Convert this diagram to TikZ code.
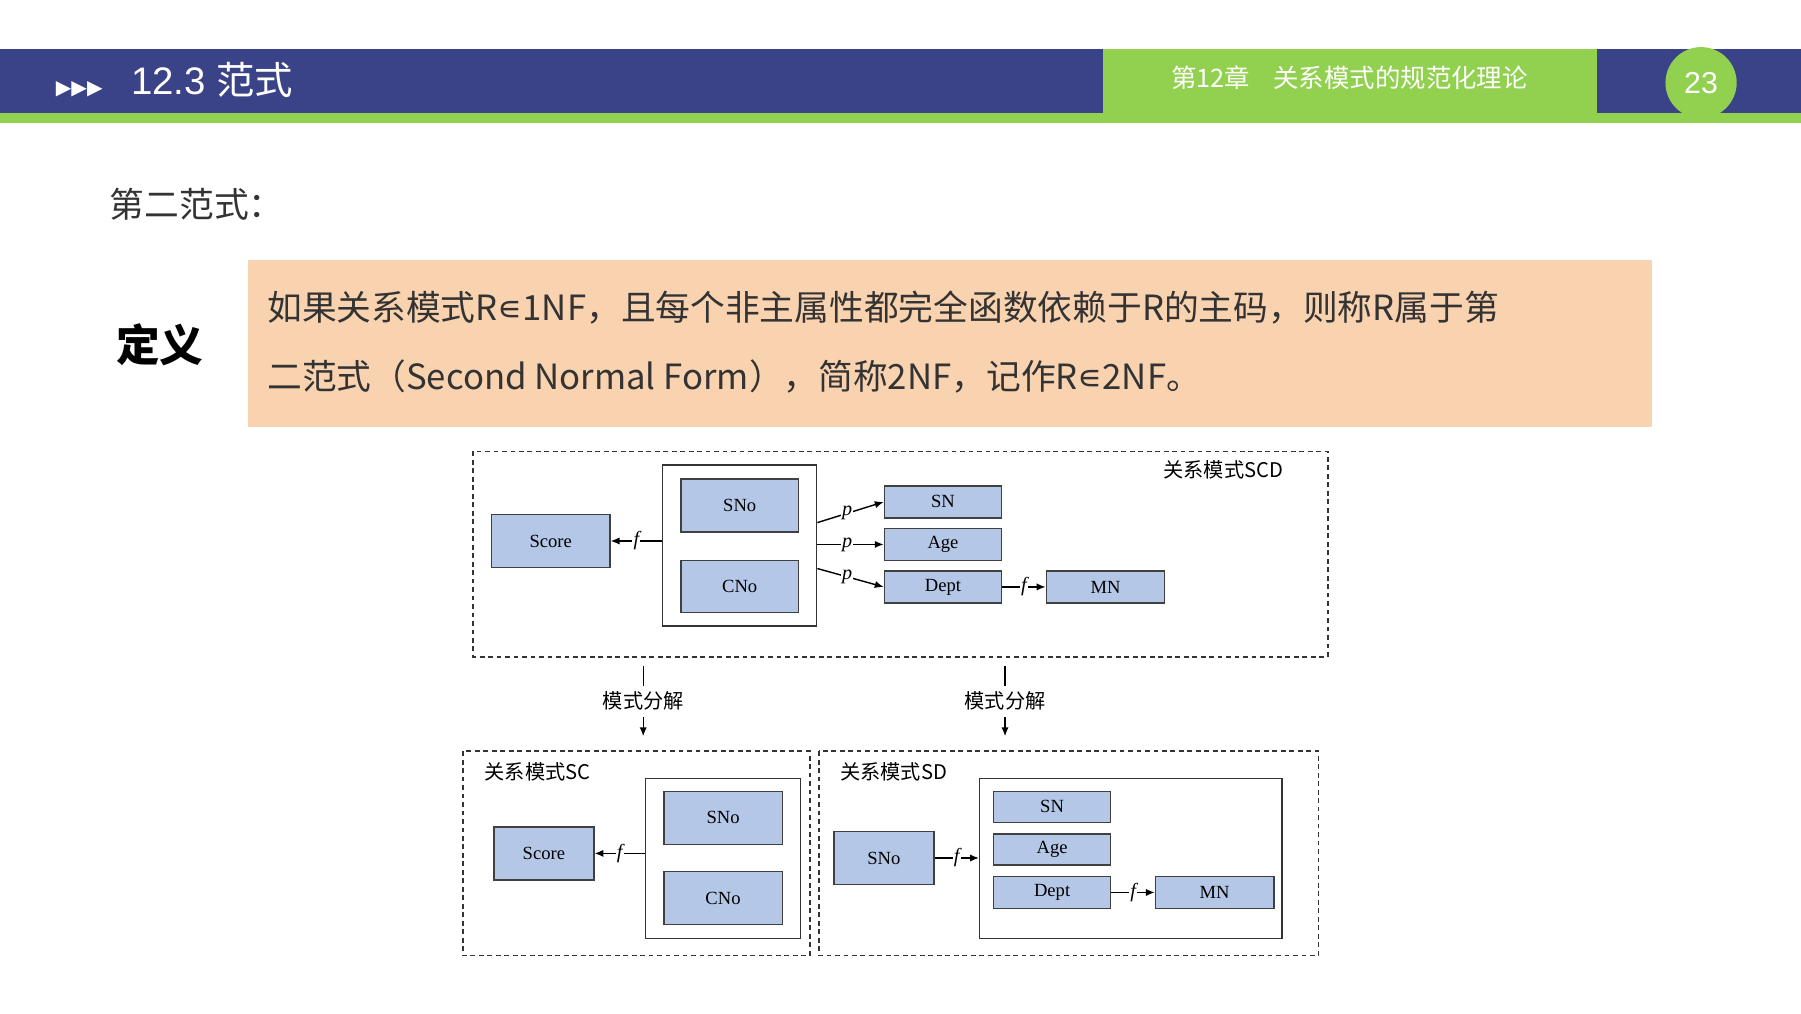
\documentclass[tikz,border=0pt]{standalone}
\usepackage{fontspec}
\setmainfont{Liberation Serif}
\newfontfamily\cjk{Noto Sans CJK SC}
\newfontfamily\hsans{Liberation Sans}
\newfontfamily\dv{DejaVu Sans}
\usetikzlibrary{arrows.meta}
\definecolor{hblue}{HTML}{3B4388}
\definecolor{hgreen}{HTML}{92D050}
\definecolor{peach}{HTML}{F9D2B0}
\definecolor{bfill}{HTML}{B4C7E7}
\begin{document}
\begin{tikzpicture}[x=0.01cm,y=-0.01cm,
  b/.style={draw=black!75,fill=bfill,line width=0.35pt,font=\fontsize{4.6}{5}\selectfont,inner sep=0pt},
  ib/.style={draw=black!80,line width=0.35pt},
  db/.style={draw=black!80,dashed,line width=0.4pt,dash pattern=on 1.2pt off 0.9pt},
  ar/.style={-{Latex[length=2.2pt,width=1.8pt]},line width=0.35pt},
  lb/.style={font=\fontsize{5}{5}\selectfont\itshape,inner sep=0.3pt,fill=white},
  dl/.style={font=\fontsize{5}{6}\selectfont\cjk,inner sep=0pt}]
\useasboundingbox (0,0) rectangle (1568,882);
\fill[white] (0,0) rectangle (1568,882);
% header
\fill[hgreen] (0,98) rectangle (1568,107);
\fill[hblue] (0,43) rectangle (960,98);
\fill[hgreen] (960,43) rectangle (1390,98);
\fill[hblue] (1390,43) rectangle (1568,98);
\fill[hgreen] (1481,72) circle (31);
\node[text=white,font=\fontsize{7.5}{8}\selectfont\hsans] (pg) at (1481,72) {23};
\node[anchor=west,text=white,inner sep=0pt] (title) at (48,70) {{\dv\fontsize{5}{5}\selectfont ▶▶▶}\hspace{0.25cm}{\fontsize{9.5}{10}\selectfont\hsans 12.3 \cjk 范式}};
\node[text=white,font=\fontsize{6.3}{7}\selectfont\cjk] (chap) at (1175,68) {第12章\hspace{0.2cm}关系模式的规范化理论};
% heading
\node[anchor=west,inner sep=0pt,font=\fontsize{8.6}{9}\selectfont\cjk,text=black!80] (h2) at (95,178) {第二范式：};
\node[font=\fontsize{10.8}{11}\selectfont\cjk\bfseries] (dy) at (139,300) {定义};
\fill[peach] (216,226) rectangle (1438,372);
\node[anchor=west,inner sep=0pt,font=\fontsize{8.6}{9}\selectfont\cjk,text=black!80] (l1) at (232,268) {如果关系模式R{\dv∊}1NF，且每个非主属性都完全函数依赖于R的主码，则称R属于第};
\node[anchor=west,inner sep=0pt,font=\fontsize{8.6}{9}\selectfont\cjk,text=black!80] (l2) at (232,328) {二范式（Second Normal Form），简称2NF，记作R{\dv∊}2NF。};
% top diagram
\draw[db] (412,393) rectangle (1156,572);
\node[dl] (t1) at (1065,409) {关系模式SCD};
\node[ib,minimum width=1.34cm,minimum height=1.40cm] (in1) at (644,475) {};
\node[b,minimum width=1.03cm,minimum height=0.46cm] (score1) at (479.5,471) {Score};
\node[b,minimum width=1.02cm,minimum height=0.46cm] (sno1) at (644,440) {SNo};
\node[b,minimum width=1.02cm,minimum height=0.45cm] (cno1) at (644,510.5) {CNo};
\node[b,minimum width=1.02cm,minimum height=0.28cm] (sn1) at (821,437) {SN};
\node[b,minimum width=1.02cm,minimum height=0.28cm] (age1) at (821,474) {Age};
\node[b,minimum width=1.02cm,minimum height=0.28cm] (dept1) at (821,511) {Dept};
\node[b,minimum width=1.03cm,minimum height=0.28cm] (mn1) at (962.5,511) {MN};
\draw[ar] (in1.west|-score1) -- node[lb]{f} (score1.east);
\draw[ar] (in1.east|-0,455) -- node[lb,pos=0.45]{p} (sn1.west);
\draw[ar] (in1.east|-age1) -- node[lb,pos=0.45]{p} (age1.west);
\draw[ar] (in1.east|-0,495) -- node[lb,pos=0.45]{p} (dept1.west);
\draw[ar] (dept1) -- node[lb]{f} (mn1);
% decomposition arrows
\coordinate (d1a) at (560,580); \coordinate (d1b) at (560,641);
\coordinate (d2a) at (875,580); \coordinate (d2b) at (875,641);
\draw[ar] (d1a) -- node[dl,fill=white,inner sep=1.5pt,pos=0.5]{模式分解} (d1b);
\draw[ar] (d2a) -- node[dl,fill=white,inner sep=1.5pt,pos=0.5]{模式分解} (d2b);
% bottom left
\draw[db] (403,654) rectangle (705,832);
\node[dl] (t2) at (468,672) {关系模式SC};
\node[ib,minimum width=1.35cm,minimum height=1.39cm] (in2) at (629.5,747.5) {};
\node[b,minimum width=0.87cm,minimum height=0.46cm] (score2) at (473.5,743) {Score};
\node[b,minimum width=1.03cm,minimum height=0.46cm] (sno2) at (629.5,712) {SNo};
\node[b,minimum width=1.03cm,minimum height=0.46cm] (cno2) at (629.5,782) {CNo};
\draw[ar] (in2.west|-score2) -- node[lb]{f} (score2.east);
% bottom right
\draw[db] (713,654) rectangle (1148,832);
\node[dl] (t3) at (778,672) {关系模式SD};
\node[ib,minimum width=2.63cm,minimum height=1.39cm] (in3) at (984.5,747.5) {};
\node[b,minimum width=0.87cm,minimum height=0.46cm] (sno3) at (769.5,747) {SNo};
\node[b,minimum width=1.02cm,minimum height=0.27cm] (sn3) at (916,702.5) {SN};
\node[b,minimum width=1.02cm,minimum height=0.27cm] (age3) at (916,739.5) {Age};
\node[b,minimum width=1.02cm,minimum height=0.28cm] (dept3) at (916,777) {Dept};
\node[b,minimum width=1.03cm,minimum height=0.28cm] (mn3) at (1057.5,777) {MN};
\draw[ar] (sno3.east) -- node[lb]{f} (in3.west|-sno3);
\draw[ar] (dept3) -- node[lb]{f} (mn3);
\end{tikzpicture}
\end{document}
